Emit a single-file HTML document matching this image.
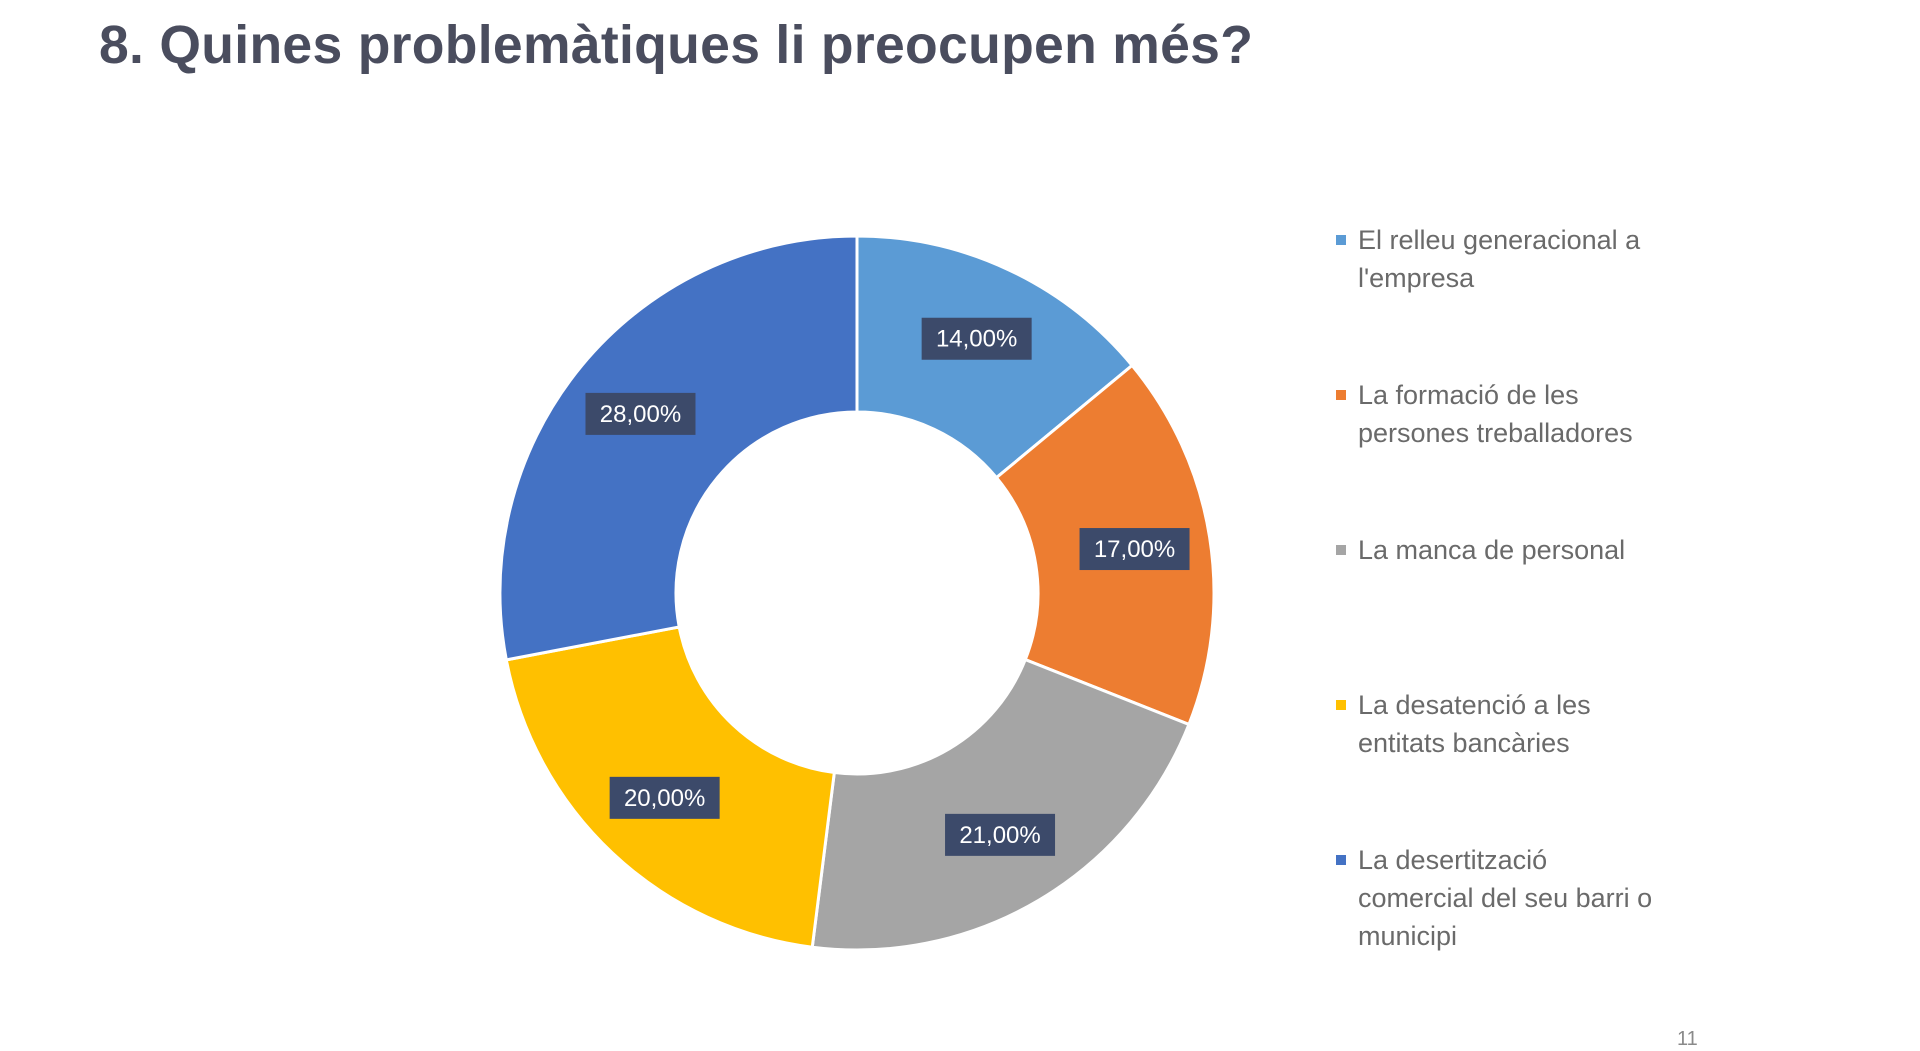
<!DOCTYPE html>
<html><head><meta charset="utf-8">
<style>
html,body{margin:0;padding:0;background:#fff;}
body{width:1920px;height:1049px;position:relative;overflow:hidden;font-family:"Liberation Sans",sans-serif;}
#title{position:absolute;left:99px;top:15px;font-size:53.5px;font-weight:bold;color:#4a4d5e;white-space:nowrap;letter-spacing:0.3px;}
.leg{position:absolute;left:1336px;font-size:27px;color:#6a6a6a;line-height:38px;}
.leg .m{position:absolute;left:0;top:14px;width:10px;height:10px;}
.leg .t{margin-left:22px;display:block;}
#pnum{position:absolute;left:1677px;top:1028px;font-size:20px;color:#8a8a8a;}
</style></head>
<body>
<div id="title">8. Quines problemàtiques li preocupen més?</div>
<svg id="chart" width="1920" height="1049" style="position:absolute;left:0;top:0"></svg>
<div class="leg" style="top:221px"><span class="m" style="background:#5B9BD5"></span><span class="t">El relleu generacional a<br>l'empresa</span></div>
<div class="leg" style="top:376px"><span class="m" style="background:#ED7D31"></span><span class="t">La formació de les<br>persones treballadores</span></div>
<div class="leg" style="top:531px"><span class="m" style="background:#A5A5A5"></span><span class="t">La manca de personal</span></div>
<div class="leg" style="top:686px"><span class="m" style="background:#FFC000"></span><span class="t">La desatenció a les<br>entitats bancàries</span></div>
<div class="leg" style="top:841px"><span class="m" style="background:#4472C4"></span><span class="t">La desertització<br>comercial del seu barri o<br>municipi</span></div>
<div id="pnum">11</div>
<script>
const categories = ["El relleu generacional a l'empresa","La formació de les persones treballadores","La manca de personal","La desatenció a les entitats bancàries","La desertització comercial del seu barri o municipi"];
const values = [14, 17, 21, 20, 28];
const labels = ["14,00%","17,00%","21,00%","20,00%","28,00%"];
const colors = ["#5B9BD5","#ED7D31","#A5A5A5","#FFC000","#4472C4"];
const NS = "http://www.w3.org/2000/svg";
const svg = document.getElementById('chart');
const cx = 857, cy = 593, ro = 357, ri = 181;
const total = values.reduce((a,b)=>a+b,0);
function pt(r, a){ return [cx + r*Math.sin(a), cy - r*Math.cos(a)]; }
let acc = 0;
values.forEach((v,i)=>{
  const a0 = acc/total*2*Math.PI, a1 = (acc+v)/total*2*Math.PI;
  acc += v;
  const large = (a1-a0) > Math.PI ? 1 : 0;
  const p0 = pt(ro,a0), p1 = pt(ro,a1), q1 = pt(ri,a1), q0 = pt(ri,a0);
  const path = document.createElementNS(NS,'path');
  path.setAttribute('d',`M${p0[0]},${p0[1]} A${ro},${ro} 0 ${large} 1 ${p1[0]},${p1[1]} L${q1[0]},${q1[1]} A${ri},${ri} 0 ${large} 0 ${q0[0]},${q0[1]} Z`);
  path.setAttribute('fill',colors[i]);
  path.setAttribute('stroke','#fff');
  path.setAttribute('stroke-width','3');
  
  
  svg.appendChild(path);
  const am = (a0+a1)/2;
  const lp = pt((ri+ro)/2+12, am);
  const w = 110, h = 42;
  const g = document.createElementNS(NS,'g');
  
  
  const rect = document.createElementNS(NS,'rect');
  rect.setAttribute('x',lp[0]-w/2); rect.setAttribute('y',lp[1]-h/2);
  rect.setAttribute('width',w); rect.setAttribute('height',h);
  rect.setAttribute('fill','#3c4a6a');
  g.appendChild(rect);
  const t = document.createElementNS(NS,'text');
  t.setAttribute('x',lp[0]); t.setAttribute('y',lp[1]+8);
  t.setAttribute('text-anchor','middle');
  t.setAttribute('font-size','24');
  t.setAttribute('fill','#fff');
  t.setAttribute('font-family','Liberation Sans, sans-serif');
  t.textContent = labels[i];
  g.appendChild(t);
  svg.appendChild(g);
});
</script>
</body></html>
